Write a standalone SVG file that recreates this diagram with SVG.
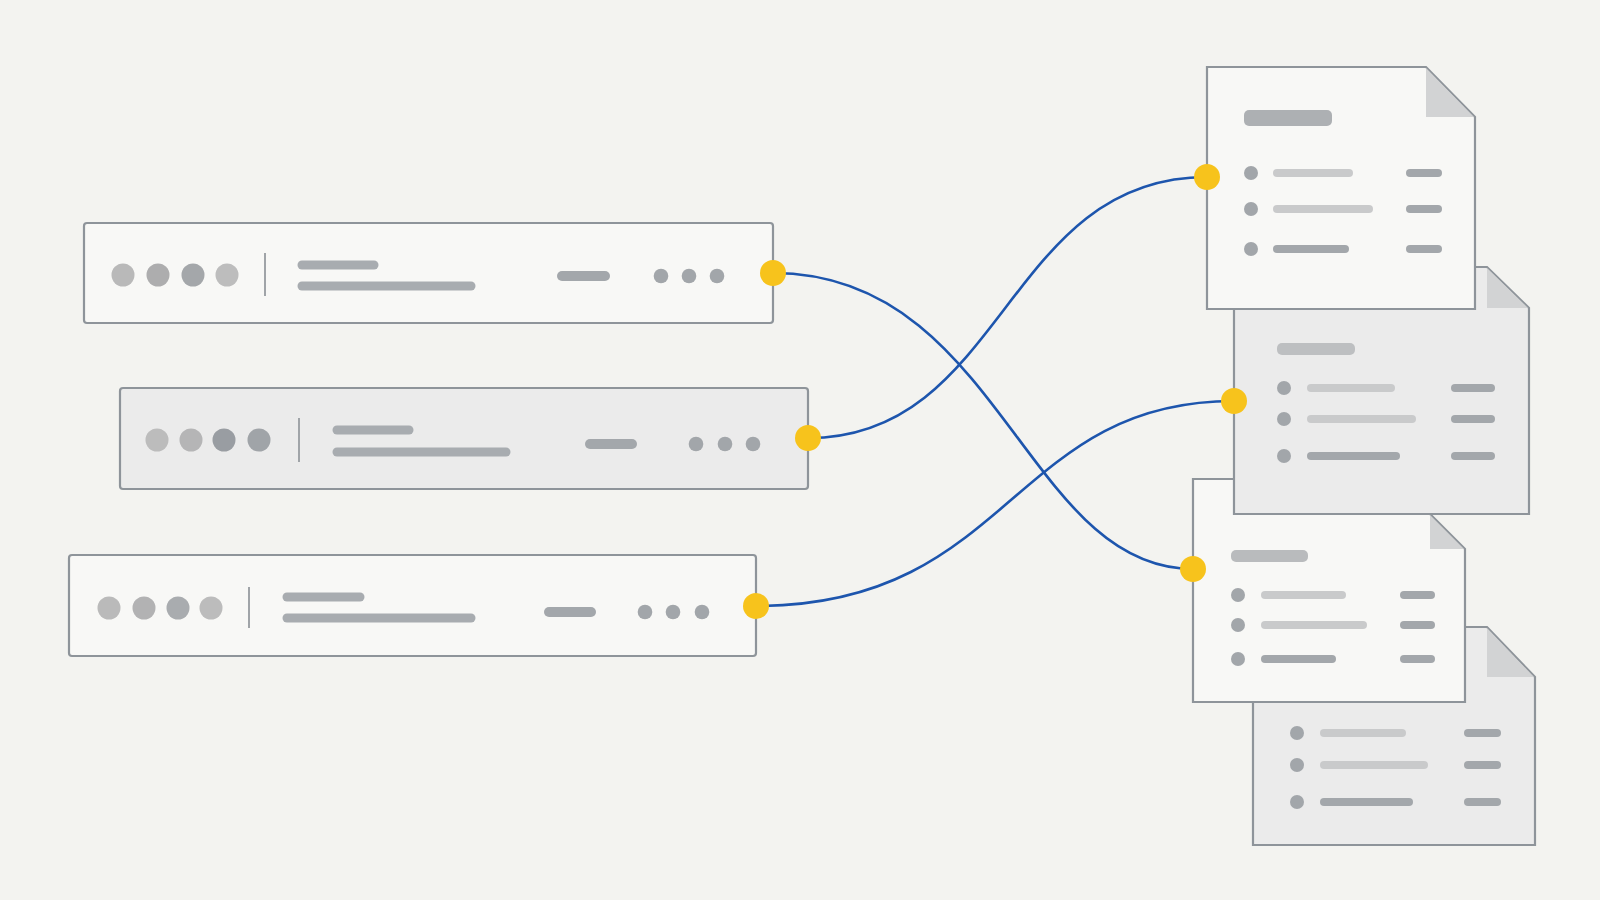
<svg xmlns="http://www.w3.org/2000/svg" width="1600" height="900" viewBox="0 0 1600 900">
<style>
.bg{fill:#f3f3f0}
.box{stroke:#8e949a;stroke-width:2.2}
.w{fill:#f8f8f6}
.g{fill:#ebebeb}
.bar{stroke-linecap:round;fill:none}
.b1{stroke:#a8acb0}
.b2{stroke:#c9cacb}
.b3{stroke:#a3a7ab}
.dv{stroke:#a0a4a8;stroke-width:2}
.pt{fill:#a2a6aa}
.port{fill:#f7c31c}
.fold{fill:#d2d3d4}
.wire{fill:none;stroke:#1d55ad;stroke-width:2.6}
</style>
<rect class="bg" width="1600" height="900"/>

<g id="connectors">
<path class="wire" d="M773,273 C1000,273 1025,569 1193,569"/>
<path class="wire" d="M808,438 C1005,438 1005,177 1207,177"/>
<path class="wire" d="M756,606 C1011,606 1011,401 1234,401"/>
</g>

<g id="row1">
<rect class="box w" x="84" y="223" width="689" height="100" rx="3"/>
<circle cx="123" cy="275" r="11.5" fill="#b9b9b9"/>
<circle cx="158" cy="275" r="11.5" fill="#adadae"/>
<circle cx="193" cy="275" r="11.5" fill="#a4a7aa"/>
<circle cx="227" cy="275" r="11.5" fill="#bdbdbd"/>
<line class="dv" x1="265" y1="253" x2="265" y2="296"/>
<line class="bar b1" x1="302" y1="265" x2="374" y2="265" stroke-width="9"/>
<line class="bar b1" x1="302" y1="286" x2="471" y2="286" stroke-width="9"/>
<line class="bar b3" x1="562" y1="276" x2="605" y2="276" stroke-width="10"/>
<circle class="pt" cx="661" cy="276" r="7.3"/>
<circle class="pt" cx="689" cy="276" r="7.3"/>
<circle class="pt" cx="717" cy="276" r="7.3"/>
<circle class="port" cx="773" cy="273" r="13"/>
</g>

<g id="row2">
<rect class="box g" x="120" y="388" width="688" height="101" rx="3"/>
<circle cx="157" cy="440" r="11.5" fill="#bcbcbc"/>
<circle cx="191" cy="440" r="11.5" fill="#b5b5b6"/>
<circle cx="224" cy="440" r="11.5" fill="#999da2"/>
<circle cx="259" cy="440" r="11.5" fill="#a0a4a8"/>
<line class="dv" x1="299" y1="418" x2="299" y2="462"/>
<line class="bar b1" x1="337" y1="430" x2="409" y2="430" stroke-width="9"/>
<line class="bar b1" x1="337" y1="452" x2="506" y2="452" stroke-width="9"/>
<line class="bar b3" x1="590" y1="444" x2="632" y2="444" stroke-width="10"/>
<circle class="pt" cx="696" cy="444" r="7.3"/>
<circle class="pt" cx="725" cy="444" r="7.3"/>
<circle class="pt" cx="753" cy="444" r="7.3"/>
<circle class="port" cx="808" cy="438" r="13"/>
</g>

<g id="row3">
<rect class="box w" x="69" y="555" width="687" height="101" rx="3"/>
<circle cx="109" cy="608" r="11.5" fill="#bababa"/>
<circle cx="144" cy="608" r="11.5" fill="#b2b2b3"/>
<circle cx="178" cy="608" r="11.5" fill="#a9acaf"/>
<circle cx="211" cy="608" r="11.5" fill="#bcbcbc"/>
<line class="dv" x1="249" y1="587" x2="249" y2="628"/>
<line class="bar b1" x1="287" y1="597" x2="360" y2="597" stroke-width="9"/>
<line class="bar b1" x1="287" y1="618" x2="471" y2="618" stroke-width="9"/>
<line class="bar b3" x1="549" y1="612" x2="591" y2="612" stroke-width="10"/>
<circle class="pt" cx="645" cy="612" r="7.3"/>
<circle class="pt" cx="673" cy="612" r="7.3"/>
<circle class="pt" cx="702" cy="612" r="7.3"/>
<circle class="port" cx="756" cy="606" r="13"/>
</g>

<g id="doc4">
<path class="box g" d="M1253,627 H1487 L1535,677 V845 H1253 Z"/>
<path class="fold" d="M1487,628 L1534,677 H1487 Z"/>
<circle class="pt" cx="1297" cy="733" r="7"/>
<circle class="pt" cx="1297" cy="765" r="7"/>
<circle class="pt" cx="1297" cy="802" r="7"/>
<line class="bar b2" x1="1324" y1="733" x2="1402" y2="733" stroke-width="8"/>
<line class="bar b2" x1="1324" y1="765" x2="1424" y2="765" stroke-width="8"/>
<line class="bar b3" x1="1324" y1="802" x2="1409" y2="802" stroke-width="8"/>
<line class="bar b3" x1="1468" y1="733" x2="1497" y2="733" stroke-width="8"/>
<line class="bar b3" x1="1468" y1="765" x2="1497" y2="765" stroke-width="8"/>
<line class="bar b3" x1="1468" y1="802" x2="1497" y2="802" stroke-width="8"/>
</g>

<g id="doc3">
<path class="box w" d="M1193,479 H1395 L1465,549 V702 H1193 Z"/>
<path class="fold" d="M1430,515 L1464,549 H1430 Z"/>
<rect x="1231" y="550" width="77" height="12" rx="5" fill="#b9bbbd"/>
<circle class="pt" cx="1238" cy="595" r="7"/>
<circle class="pt" cx="1238" cy="625" r="7"/>
<circle class="pt" cx="1238" cy="659" r="7"/>
<line class="bar b2" x1="1265" y1="595" x2="1342" y2="595" stroke-width="8"/>
<line class="bar b2" x1="1265" y1="625" x2="1363" y2="625" stroke-width="8"/>
<line class="bar b3" x1="1265" y1="659" x2="1332" y2="659" stroke-width="8"/>
<line class="bar b3" x1="1404" y1="595" x2="1431" y2="595" stroke-width="8"/>
<line class="bar b3" x1="1404" y1="625" x2="1431" y2="625" stroke-width="8"/>
<line class="bar b3" x1="1404" y1="659" x2="1431" y2="659" stroke-width="8"/>
<circle class="port" cx="1193" cy="569" r="13"/>
</g>

<g id="doc2">
<path class="box g" d="M1234,267 H1487 L1529,308 V514 H1234 Z"/>
<path class="fold" d="M1487,268 L1528,308 H1487 Z"/>
<rect x="1277" y="343" width="78" height="12" rx="5" fill="#bdbfc1"/>
<circle class="pt" cx="1284" cy="388" r="7"/>
<circle class="pt" cx="1284" cy="419" r="7"/>
<circle class="pt" cx="1284" cy="456" r="7"/>
<line class="bar b2" x1="1311" y1="388" x2="1391" y2="388" stroke-width="8"/>
<line class="bar b2" x1="1311" y1="419" x2="1412" y2="419" stroke-width="8"/>
<line class="bar b3" x1="1311" y1="456" x2="1396" y2="456" stroke-width="8"/>
<line class="bar b3" x1="1455" y1="388" x2="1491" y2="388" stroke-width="8"/>
<line class="bar b3" x1="1455" y1="419" x2="1491" y2="419" stroke-width="8"/>
<line class="bar b3" x1="1455" y1="456" x2="1491" y2="456" stroke-width="8"/>
<circle class="port" cx="1234" cy="401" r="13"/>
</g>

<g id="doc1">
<path class="box w" d="M1207,67 H1426 L1475,117 V309 H1207 Z"/>
<path class="fold" d="M1426,68 L1474,117 H1426 Z"/>
<rect x="1244" y="110" width="88" height="16" rx="5" fill="#adb0b3"/>
<circle class="pt" cx="1251" cy="173" r="7"/>
<circle class="pt" cx="1251" cy="209" r="7"/>
<circle class="pt" cx="1251" cy="249" r="7"/>
<line class="bar b2" x1="1277" y1="173" x2="1349" y2="173" stroke-width="8"/>
<line class="bar b2" x1="1277" y1="209" x2="1369" y2="209" stroke-width="8"/>
<line class="bar b3" x1="1277" y1="249" x2="1345" y2="249" stroke-width="8"/>
<line class="bar b3" x1="1410" y1="173" x2="1438" y2="173" stroke-width="8"/>
<line class="bar b3" x1="1410" y1="209" x2="1438" y2="209" stroke-width="8"/>
<line class="bar b3" x1="1410" y1="249" x2="1438" y2="249" stroke-width="8"/>
<circle class="port" cx="1207" cy="177" r="13"/>
</g>
</svg>
